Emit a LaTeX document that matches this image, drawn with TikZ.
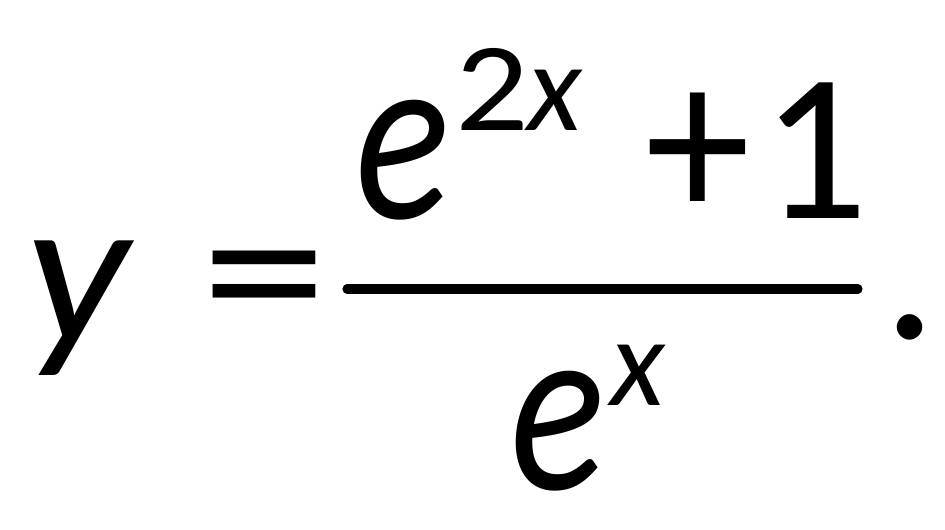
\documentclass[tikz,border=0pt]{standalone}
\usepackage{fontspec}
\setmainfont{Carlito}

\begin{document}
\begin{tikzpicture}[x=0.02cm, y=-0.02cm,
  glyph/.style={inner sep=0pt, outer sep=0pt, anchor=base west, font=\fontsize{120}{120}\selectfont},
  supglyph/.style={glyph, font=\fontsize{72}{72}\selectfont},
  tallglyph/.style={glyph, xscale=0.94, yscale=1.16}]
\useasboundingbox (0,0) rectangle (945,529);
\node[glyph, xscale=1.1] (yvar) at (25,341) {\textit{y}};
\node[glyph, xscale=1.2] (eqsign) at (201,341) {=};
\node[tallglyph] (eNum) at (355,218) {\textit{e}};
\node[supglyph, xscale=1.15] (supTwo) at (455,130) {2};
\node[supglyph] (supX) at (527,130) {\textit{x}};
\node[glyph, yscale=1.1] (plus) at (645,220) {+};
\node[glyph] (one) at (761,218) {1};
\coordinate (barL) at (347,289);
\coordinate (barR) at (858,289);
\draw[line width=5.2pt, line cap=round] (barL) -- (barR);
\node[tallglyph] (eDen) at (510,489) {\textit{e}};
\node[supglyph] (supDen) at (610,405) {\textit{x}};
\node[glyph] (dot) at (883,338) {.};
\end{tikzpicture}
\end{document}
